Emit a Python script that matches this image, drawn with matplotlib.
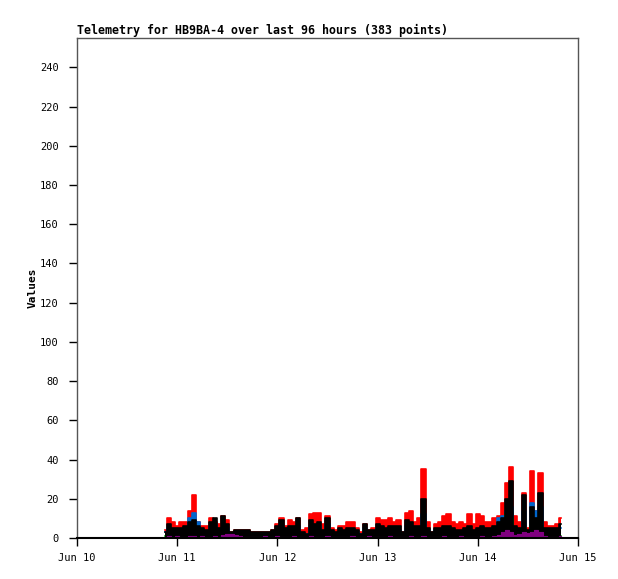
import numpy as np
import pandas as pd
import matplotlib
matplotlib.use("Agg")
import matplotlib.pyplot as plt
import matplotlib.dates as mdates

# hourly peak values, starting Jun 10 21:00
start = "2024-06-10 21:00"
red = [4, 10, 8, 6, 8, 8, 14, 22, 8, 6, 6, 10, 8, 7, 11, 9,
       3, 4, 4, 4, 4, 3, 3, 3, 3, 3, 4,
       7, 10, 6, 9, 8, 10, 4, 5, 12, 13, 13, 7, 11, 5, 4,
       6, 6, 8, 8, 5, 3, 7, 4, 5, 10, 9, 9, 10, 8,
       9, 3, 13, 14, 8, 10, 35, 8, 3, 7, 8, 11, 12, 8,
       7, 8, 7, 12, 7, 12, 11, 8, 8, 10, 11, 18, 28, 36, 11,
       8, 23, 5, 34, 14, 33, 8, 6, 6, 7, 10]
black = [3, 7, 5, 5, 5, 6, 8, 9, 6, 5, 4, 8, 10, 5, 11, 7,
         3, 4, 4, 4, 4, 3, 3, 3, 3, 3, 4,
         6, 9, 5, 6, 6, 10, 3, 2, 9, 7, 8, 4, 10, 4, 3,
         5, 4, 5, 5, 4, 2, 7, 4, 4, 7, 6, 5, 6, 6,
         6, 3, 9, 8, 6, 6, 20, 5, 3, 5, 5, 6, 6, 5,
         4, 4, 5, 6, 4, 5, 6, 5, 5, 6, 8, 10, 20, 29, 6,
         5, 22, 4, 16, 10, 23, 5, 5, 5, 5, 7]
blue = [3, 5, 4, 4, 4, 5, 10, 13, 8, 4, 3, 6, 7, 4, 5, 5,
        2, 3, 3, 3, 3, 2, 2, 2, 2, 2, 3,
        4, 6, 4, 4, 4, 6, 2, 2, 6, 5, 6, 3, 7, 3, 2,
        3, 3, 4, 4, 3, 2, 5, 3, 3, 5, 4, 4, 4, 4,
        4, 2, 6, 6, 4, 4, 12, 4, 2, 4, 4, 4, 4, 4,
        3, 3, 4, 4, 3, 4, 4, 4, 4, 5, 10, 11, 14, 16, 5,
        4, 14, 3, 18, 14, 16, 4, 4, 4, 4, 5]
green = [1, 1, 1, 1, 1, 1, 2, 2, 1, 1, 1, 1, 2, 1, 5, 2,
         1, 1, 1, 1, 1, 1, 1, 1, 1, 1, 1,
         1, 1, 1, 1, 1, 2, 1, 1, 1, 1, 1, 1, 2, 1, 1,
         1, 1, 1, 1, 1, 1, 1, 1, 1, 1, 1, 1, 1, 1,
         1, 1, 1, 1, 1, 1, 2, 1, 1, 1, 1, 1, 1, 1,
         1, 1, 1, 1, 1, 1, 1, 1, 1, 2, 4, 8, 13, 10, 3,
         2, 5, 2, 6, 8, 5, 2, 1, 1, 1, 1]
purple = [0.5, 1, 0.5, 1, 0.5, 0.5, 1, 1, 0.5, 1, 0.5, 0.5, 1, 0.5, 1.5, 2,
          2, 1.5, 1, 0.5, 0.5, 0.5, 0.5, 0.5, 1, 0.5, 0.5,
          1, 0.5, 0.5, 0.5, 1, 0.5, 0.5, 0.5, 1, 0.5, 0.5, 0.5, 1, 0.5, 0.5,
          0.5, 0.5, 0.5, 1, 0.5, 0.5, 0.5, 1, 0.5, 0.5, 0.5, 0.5, 1, 0.5,
          0.5, 0.5, 0.5, 1, 0.5, 0.5, 1, 0.5, 0.5, 0.5, 0.5, 1, 0.5, 0.5,
          0.5, 1, 0.5, 0.5, 0.5, 0.5, 1, 0.5, 0.5, 1, 1.5, 3, 4, 3, 1.5,
          2, 3, 2.5, 3, 4, 3, 1, 0.5, 0.5, 0.5, 1]

hours = pd.date_range(start, periods=len(red), freq="h")

fig = plt.figure(figsize=(6.18, 5.79), dpi=100)
ax = fig.add_axes([77 / 618, 1 - 538 / 579, 501 / 618, 500 / 579])

# the 15-minute samples zigzag so densely that they read as solid shapes
series = [
    (red, "#ff0000", 1.2),
    (blue, "#0066cc", 1.2),
    (green, "#00c000", 1.2),
    (black, "#000000", 1.2),
    (purple, "#800080", 0.8),
]
for i, (vals, col, w) in enumerate(series):
    z = 2 + i
    ax.fill_between(hours, 0, vals, step="mid", color=col, lw=0, zorder=z)
    ax.step(hours, vals, where="mid", color=col, lw=w, zorder=z)

ax.set_xlim(pd.Timestamp("2024-06-10"), pd.Timestamp("2024-06-15"))
ax.set_ylim(0, 255)
ax.set_yticks(range(0, 241, 20))
ax.xaxis.set_major_locator(mdates.DayLocator())
ax.xaxis.set_major_formatter(mdates.DateFormatter("%b %d"))

mono = "DejaVu Sans Mono"
for lab in ax.get_xticklabels() + ax.get_yticklabels():
    lab.set_family(mono)
    lab.set_fontsize(7.5)
ax.tick_params(direction="out", length=6, width=1, colors="black")
ax.tick_params(axis="x", pad=5)
ax.tick_params(axis="y", pad=7)

for s in ax.spines.values():
    s.set_color("#555555")
    s.set_linewidth(1)
    s.set_zorder(10)
ax.spines["bottom"].set_color("black")
ax.spines["bottom"].set_linewidth(1.5)

ax.set_ylabel("Values", family=mono, fontsize=8, fontweight="bold", labelpad=2)
ax.set_title("Telemetry for HB9BA-4 over last 96 hours (383 points)",
             family=mono, fontsize=8.4, fontweight="bold", loc="left", pad=3)

fig.savefig("out.png", dpi=100)
